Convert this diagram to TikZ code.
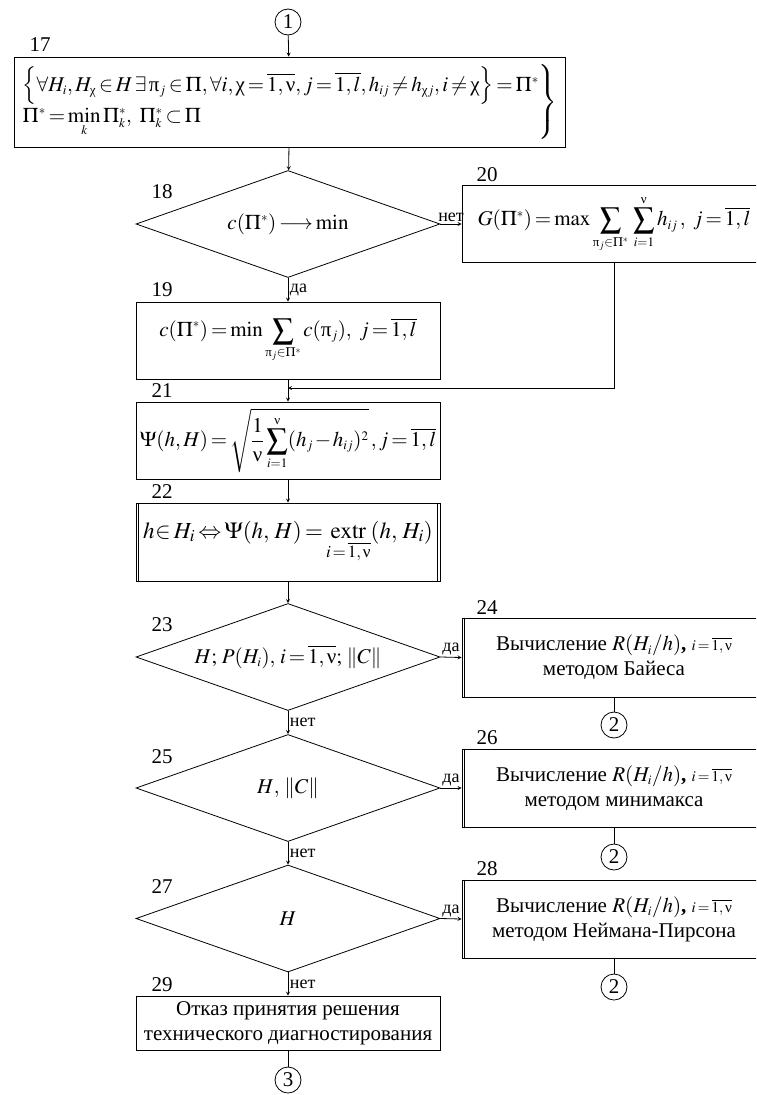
\documentclass[tikz,border=0pt]{standalone}
\usepackage{amsmath}
\usepackage{mathptmx}
\usepackage{fontspec}
\setmainfont{Liberation Serif}
\usetikzlibrary{shapes.geometric}
\DeclareMathSizes{21}{21}{13}{10}
\newcommand{\unu}{\text{ν}}
\newcommand{\upi}{\text{π}}
\newcommand{\uchi}{\text{χ}}
\thickmuskip=2.5mu plus 1mu
\medmuskip=1.5mu plus 1mu
\thinmuskip=2mu

\begin{document}
\begin{tikzpicture}[x=1pt,y=-1pt,>=stealth,line width=0.8pt,
  every node/.style={font=\fontsize{21}{25}\selectfont},
  conn/.style={draw,circle,minimum size=26pt,inner sep=0pt},
  blk/.style={draw,rectangle,minimum width=304pt,minimum height=77pt,inner sep=2pt,align=center},
  cond/.style={draw,diamond,aspect=2.85,minimum width=304pt,minimum height=107pt,inner sep=0pt},
  num/.style={inner sep=0pt},
  ans/.style={font=\fontsize{18}{20}\selectfont,inner sep=1.5pt}]
  \useasboundingbox (0,0) rectangle (756,1095);
  \clip (0,0) rectangle (756,1095);

  \node (c1)[conn] at (288,22) {1};
  \node (b17)[blk,minimum width=551pt,minimum height=90pt,inner sep=1pt] at (289.5,102)
    {$\left.\begin{array}{@{}l@{}}
      \Bigl\{\forall H_i, H_\uchi\in H\,\exists\,\upi_j\in\Pi, \forall i,\uchi=\overline{1,\unu},
        j=\overline{1,l}, h_{ij}\neq h_{\uchi j}, i\neq\uchi\Bigr\}=\Pi^*\\[4pt]
      \Pi^*=\min\limits_k\Pi_k^*,\ \Pi_k^*\subset\Pi
    \end{array}\right\}$};
  \node (d18)[cond] at (288,224) {$c(\Pi^*)\longrightarrow\min$};
  \node (b20)[blk] at (614,224)
    {$\displaystyle G(\Pi^*)=\max\sum\limits_{\upi_j\in\Pi^*}\,\sum\limits_{i=1}^{\unu}h_{ij}\,,\ j=\overline{1,l}$};
  \node (b19)[blk] at (288,340.5)
    {$\displaystyle c(\Pi^*)=\min\sum\limits_{\upi_j\in\Pi^*}c(\upi_j),\ j=\overline{1,l}$};
  \node (b21)[blk,inner sep=1pt] at (288,440.5)
    {$\displaystyle \Psi(h,H)=\sqrt{\frac{1}{\unu}\sum\limits_{i=1}^{\unu}(h_j-h_{ij})^2}\,,j=\overline{1,l}$};
  \node (b22)[blk,minimum height=78pt,font=\fontsize{23}{27}\selectfont] at (288,542)
    {$h\!\in H_i\Leftrightarrow\Psi(h,\,H)=\mathop{\mathrm{extr}}\limits_{i\,=\,\overline{1,\,\unu}}(h,\,H_i)$};
  \node (d23)[cond] at (288,657) {$H;\,P(H_i),\,i=\overline{1,\unu};\,\|C\|$};
  \node (b24)[blk,minimum height=79pt] at (614,657.5)
    {Вычисление $R(H_i/h)$\textbf{,} {\fontsize{15}{16}\selectfont$i=\overline{1,\unu}$}\\методом Байеса};
  \node (c2a)[conn] at (614,725) {2};
  \node (d25)[cond] at (288,788) {$H,\,\|C\|$};
  \node (b26)[blk,minimum height=78pt] at (614,788)
    {Вычисление $R(H_i/h)$\textbf{,} {\fontsize{15}{16}\selectfont$i=\overline{1,\unu}$}\\методом минимакса};
  \node (c2b)[conn] at (614,857) {2};
  \node (d27)[cond] at (288,918.5) {$H$};
  \node (b28)[blk,minimum height=78pt] at (614,919)
    {Вычисление $R(H_i/h)$\textbf{,} {\fontsize{15}{16}\selectfont$i=\overline{1,\unu}$}\\методом Неймана-Пирсона};
  \node (c2c)[conn] at (614,987) {2};
  \node (b29)[blk,minimum height=54pt] at (288,1023)
    {Отказ принятия решения\\технического диагностирования};
  \node (c3)[conn] at (288,1080) {3};

  % block numbers
  \node (n17)[num] at (40,45) {17};
  \node (n18)[num] at (162,192) {18};
  \node (n19)[num] at (162,290) {19};
  \node (n20)[num] at (487,175) {20};
  \node (n21)[num] at (162,391) {21};
  \node (n22)[num] at (162,492) {22};
  \node (n23)[num] at (162,625) {23};
  \node (n24)[num] at (487,608) {24};
  \node (n25)[num] at (162,757) {25};
  \node (n26)[num] at (487,738) {26};
  \node (n27)[num] at (162,887) {27};
  \node (n28)[num] at (487,869) {28};
  \node (n29)[num] at (162,985) {29};

  % double sides
  \draw ([xshift=3pt]b22.north west) -- ([xshift=3pt]b22.south west);
  \draw ([xshift=-3pt]b22.north east) -- ([xshift=-3pt]b22.south east);
  \draw ([xshift=3pt]b24.north west) -- ([xshift=3pt]b24.south west);
  \draw ([xshift=3pt]b26.north west) -- ([xshift=3pt]b26.south west);
  \draw ([xshift=3pt]b28.north west) -- ([xshift=3pt]b28.south west);

  \coordinate (j21) at (288,388);
  \draw[->] (c1) -- (b17);
  \draw[->] (b17) -- (d18);
  \draw[->] (d18.east) -- node[ans,above]{нет} (b20.west);
  \draw[->] (d18.south) -- node[ans,right]{да} (b19.north);
  \draw[->] (b19) -- (b21);
  \draw[->] (b20.south) |- (j21);
  \draw[->] (b21) -- (b22);
  \draw[->] (b22) -- (d23);
  \draw[->] (d23.east) -- node[ans,above]{да} (b24.west);
  \draw[->] (d23.south) -- node[ans,right]{нет} (d25.north);
  \draw (b24) -- (c2a);
  \draw[->] (d25.east) -- node[ans,above]{да} (b26.west);
  \draw[->] (d25.south) -- node[ans,right]{нет} (d27.north);
  \draw (b26) -- (c2b);
  \draw[->] (d27.east) -- node[ans,above]{да} (b28.west);
  \draw[->] (d27.south) -- node[ans,right]{нет} (b29.north);
  \draw (b28) -- (c2c);
  \draw (b29) -- (c3);
\end{tikzpicture}
\end{document}
